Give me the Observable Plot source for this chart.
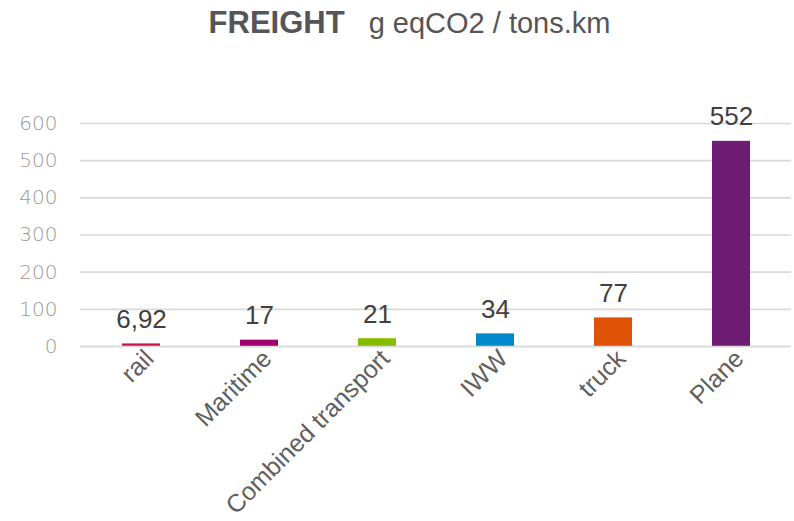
<!DOCTYPE html>
<html>
<head>
<meta charset="utf-8">
<script src="https://cdn.jsdelivr.net/npm/d3@7"></script>
<script src="https://cdn.jsdelivr.net/npm/@observablehq/plot@0.6"></script>
<style>
  body { margin: 0; background: #fff; }
  #title { height: 50px; line-height: 46px; text-align: center; font-family: "Liberation Sans", Arial, sans-serif; color: #555558; padding-left: 25px; white-space: nowrap; }
  #title b { font-size: 31px; }
  #title span { font-size: 29px; margin-left: 24px; }
</style>
</head>
<body>
<div id="title"><b>FREIGHT</b><span>g eqCO2 / tons.km</span></div>
<div id="chart"></div>
<script>
const modes = ["rail", "Maritime", "Combined transport", "IWW", "truck", "Plane"];
const values = [6.92, 17, 21, 34, 77, 552];
const colors = ["#cf1449", "#a0006e", "#86bc00", "#0088cc", "#e05206", "#6c1d73"];
const yTicks = [0, 100, 200, 300, 400, 500, 600];

const data = modes.map((m, i) => ({ mode: m, value: values[i], color: colors[i] }));
const fmt = v => String(v).replace(".", ",");

const chart = Plot.plot({
  width: 794,
  height: 471,
  marginTop: 73,
  marginBottom: 175,
  marginLeft: 80,
  marginRight: 3,
  style: { background: "transparent" },
  x: { domain: modes, padding: 0.68, paddingOuter: 0.34, label: null },
  y: { domain: [0, 600], label: null },
  marks: [
    Plot.gridY(yTicks, { stroke: "#d9d9d9", strokeOpacity: 1, strokeWidth: 1.6 }),
    Plot.barY(data, { x: "mode", y: "value", fill: "color" }),
    Plot.ruleY([0], { stroke: "#d9d9d9", strokeWidth: 1.6 }),
    Plot.text(data, {
      x: "mode", y: "value", text: d => fmt(d.value),
      lineAnchor: "bottom", dy: -16,
      fontSize: 26, fill: "#404040",
      fontFamily: "Liberation Sans, Arial, sans-serif"
    }),
    Plot.axisY(yTicks, {
      tickSize: 0, tickPadding: 23, fontSize: 20, fill: "#9a9a9a",
      fontFamily: "DejaVu Sans, sans-serif", fontWeight: 200, label: null
    }),
    Plot.axisX({
      tickSize: 0, tickRotate: -45, tickPadding: 8, dx: 8,
      fontSize: 25, fill: "#5f5f5f",
      fontFamily: "Liberation Sans, Arial, sans-serif", label: null
    })
  ]
});
document.getElementById("chart").appendChild(chart);
</script>
</body>
</html>
